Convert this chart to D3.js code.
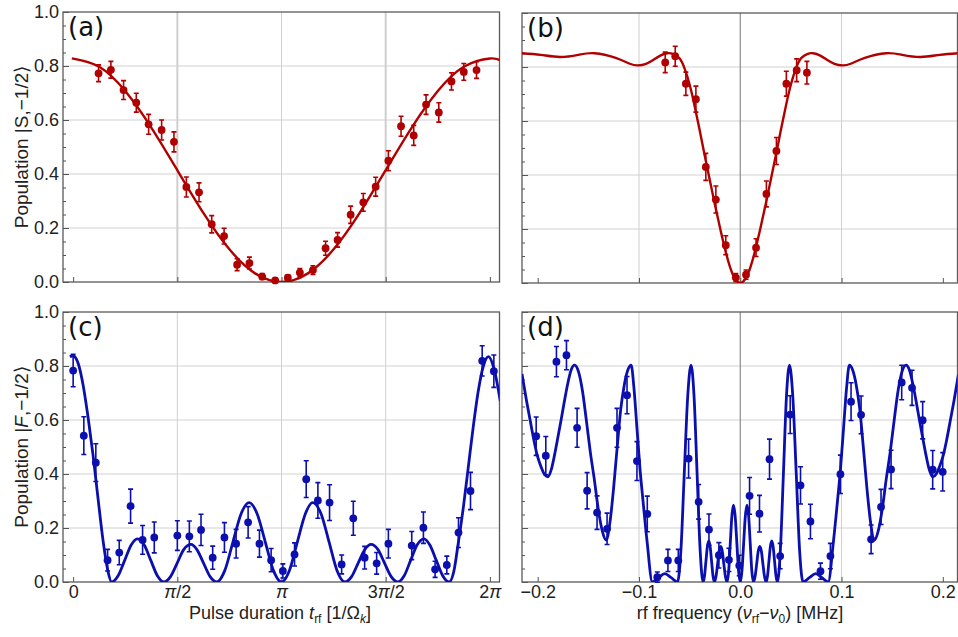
<!DOCTYPE html>
<html>
<head>
<meta charset="utf-8">
<script src="https://cdn.jsdelivr.net/npm/d3@7/dist/d3.min.js"></script>
<style>
html,body{margin:0;padding:0;background:#fff;}
svg{display:block;font-family:"Liberation Sans",Arial,sans-serif;}
</style>
</head>
<body>
<svg id="chart" width="958" height="637"></svg>
<script>
const PI = Math.PI;

// ---------- Panel (a): |S,-1/2> vs pulse duration ----------
const aX = [0.383,0.569,0.760,0.952,1.138,1.334,1.520,1.707,1.898,2.089,2.276,2.472,2.658,2.850,3.046,3.237,3.418,3.615,3.806,3.987,4.184,4.375,4.561,4.753,4.944,5.135,5.321,5.513,5.704,5.890,6.082];
const aY = [0.773,0.786,0.711,0.664,0.584,0.563,0.519,0.352,0.332,0.214,0.170,0.064,0.070,0.020,0.006,0.016,0.035,0.044,0.125,0.156,0.249,0.295,0.353,0.449,0.577,0.543,0.657,0.628,0.743,0.778,0.785];
const aErr = [0.031,0.031,0.035,0.035,0.037,0.037,0.037,0.037,0.035,0.032,0.029,0.022,0.022,0.011,0.006,0.010,0.015,0.016,0.026,0.027,0.032,0.033,0.035,0.037,0.037,0.037,0.036,0.036,0.032,0.031,0.031];
const aFitX = [-0.02,0.393,0.785,1.178,1.571,1.963,2.356,2.749,3.142,3.534,3.927,4.320,4.712,5.105,5.498,5.890,6.283,6.45];
const aFitY = [0.828,0.797,0.707,0.572,0.414,0.256,0.121,0.031,0.000,0.031,0.121,0.256,0.414,0.572,0.707,0.797,0.828,0.820];

// ---------- Panel (b): |S,-1/2> vs rf frequency ----------
const bX = [-0.0741,-0.0642,-0.0537,-0.0438,-0.0340,-0.0241,-0.0143,-0.0044,0.0057,0.0156,0.0258,0.0357,0.0455,0.0557,0.0658];
const bY = [0.817,0.840,0.738,0.681,0.430,0.309,0.140,0.020,0.031,0.131,0.330,0.489,0.738,0.788,0.779];
const bErr = [0.038,0.037,0.043,0.048,0.050,0.050,0.035,0.015,0.017,0.033,0.048,0.050,0.046,0.042,0.042];
const bFitX = [-0.2155,-0.197,-0.178,-0.160,-0.144,-0.123,-0.109,-0.101,-0.093,-0.086,-0.079,-0.072,-0.066,-0.060,-0.055,-0.050,-0.045,-0.040,-0.035,-0.030,-0.025,-0.020,-0.015,-0.010,-0.005,0,
  0.005,0.010,0.015,0.020,0.025,0.030,0.035,0.040,0.045,0.050,0.055,0.060,0.066,0.072,0.079,0.086,0.093,0.101,0.109,0.123,0.144,0.160,0.178,0.197,0.2155];
const bFitY = [0.851,0.845,0.837,0.845,0.851,0.834,0.812,0.806,0.812,0.826,0.842,0.851,0.848,0.832,0.795,0.735,0.655,0.565,0.47,0.38,0.29,0.205,0.125,0.058,0.015,0,
  0.015,0.058,0.125,0.205,0.29,0.38,0.47,0.565,0.655,0.735,0.795,0.832,0.848,0.851,0.842,0.826,0.812,0.806,0.812,0.834,0.851,0.845,0.837,0.845,0.851];

// ---------- Panel (c): |F,-1/2> vs pulse duration ----------
const cX = [0.000,0.161,0.342,0.519,0.695,0.866,1.047,1.223,1.571,1.752,1.928,2.104,2.281,2.457,2.638,2.809,2.985,3.162,3.338,3.514,3.690,3.866,4.048,4.224,4.395,4.576,4.753,5.105,5.281,5.457,5.634,5.810,5.991,6.167,6.343];
const cY = [0.783,0.542,0.442,0.081,0.109,0.281,0.156,0.165,0.172,0.169,0.193,0.090,0.165,0.142,0.221,0.142,0.081,0.041,0.102,0.381,0.302,0.294,0.065,0.236,0.090,0.069,0.142,0.135,0.201,0.047,0.063,0.183,0.337,0.819,0.781];
const cErr = [0.060,0.070,0.070,0.040,0.045,0.063,0.053,0.057,0.055,0.057,0.058,0.043,0.055,0.053,0.058,0.050,0.043,0.026,0.043,0.068,0.066,0.066,0.035,0.063,0.042,0.040,0.053,0.052,0.058,0.030,0.033,0.055,0.069,0.056,0.060];
const cFitX = [-0.05,0,0.075,0.15,0.225,0.30,0.375,0.45,0.525,0.579,
  0.678,0.777,0.875,0.967,1.072,1.171,1.270,1.369,
  1.468,1.568,1.667,1.777,1.866,1.966,2.065,2.165,
  2.287,2.409,2.531,2.653,2.775,2.897,3.019,3.141,
  3.261,3.380,3.500,3.610,3.739,3.859,3.978,4.098,
  4.198,4.297,4.397,4.491,4.596,4.695,4.795,4.894,
  4.991,5.088,5.185,5.291,5.378,5.475,5.572,5.669,
  5.74,5.81,5.885,5.96,6.035,6.11,6.185,6.263,6.345,6.44];
const cFitY = [0.834,0.838,0.81,0.73,0.61,0.47,0.31,0.155,0.04,0,
  0.023,0.08,0.137,0.16,0.137,0.08,0.023,0,
  0.02,0.07,0.12,0.139,0.12,0.07,0.02,0,
  0.043,0.148,0.252,0.294,0.252,0.148,0.043,0,
  0.043,0.148,0.252,0.294,0.252,0.148,0.043,0,
  0.02,0.07,0.12,0.139,0.12,0.07,0.02,0,
  0.023,0.08,0.137,0.16,0.137,0.08,0.023,0,
  0.04,0.15,0.28,0.43,0.58,0.71,0.80,0.835,0.79,0.67];

// ---------- Panel (d): |F,-1/2> vs rf frequency ----------
const dX = [-0.2015,-0.1920,-0.1815,-0.1716,-0.1611,-0.1512,-0.1414,-0.1315,-0.1217,-0.1118,-0.1020,-0.0918,-0.0819,-0.0714,-0.0612,-0.0510,-0.0411,-0.0309,-0.0211,-0.0112,-0.0010,0.0092,0.0190,0.0289,0.0394,0.0493,0.0595,0.0693,0.0792,0.0890,0.0989,0.1094,0.1193,0.1292,0.1390,0.1489,0.1594,0.1696,0.1801,0.1900,0.1999];
const dY = [0.540,0.468,0.816,0.840,0.571,0.338,0.257,0.197,0.571,0.692,0.448,0.252,0.018,0.080,0.080,0.457,0.297,0.194,0.099,0.082,0.061,0.319,0.253,0.455,0.096,0.620,0.358,0.224,0.040,0.096,0.399,0.668,0.619,0.158,0.278,0.417,0.739,0.719,0.599,0.416,0.408];
const dErr = [0.071,0.071,0.056,0.054,0.072,0.067,0.062,0.058,0.072,0.069,0.072,0.066,0.019,0.041,0.041,0.072,0.064,0.058,0.047,0.043,0.038,0.068,0.068,0.074,0.047,0.070,0.069,0.064,0.030,0.047,0.071,0.070,0.070,0.053,0.065,0.071,0.064,0.065,0.069,0.071,0.071];
const dFitX = [-0.2155,-0.2110,-0.2075,-0.2040,-0.2005,-0.1970,-0.1935,-0.1900,-0.1867,-0.1834,-0.1801,-0.1769,-0.1736,-0.1703,-0.1670,-0.1637,-0.1598,-0.1559,-0.1520,-0.1480,-0.1441,-0.1402,-0.1363,-0.1324,-0.1287,-0.1250,-0.1215,-0.1180,-0.1145,-0.1110,-0.1077,-0.1050,-0.1020,-0.0990,-0.0960,-0.0920,-0.0868,-0.0807,-0.0745,-0.0682,-0.0620,-0.0586,-0.0553,-0.0519,-0.0486,-0.0456,-0.0426,-0.0396,-0.0367,-0.0353,-0.0339,-0.0325,-0.0311,-0.0297,-0.0283,-0.0269,-0.0255,-0.0240,-0.0224,-0.0209,-0.0193,-0.0177,-0.0162,-0.0146,-0.0130,-0.0114,-0.0099,-0.0083,-0.0067,-0.0050,-0.0033,-0.0017,
  0,
  0.0017,0.0033,0.0050,0.0067,0.0083,0.0099,0.0114,0.0130,0.0146,0.0162,0.0177,0.0193,0.0209,0.0224,0.0240,0.0255,0.0269,0.0283,0.0297,0.0311,0.0325,0.0339,0.0353,0.0367,0.0396,0.0426,0.0456,0.0486,0.0519,0.0553,0.0586,0.0620,0.0682,0.0745,0.0807,0.0868,0.0920,0.0960,0.0990,0.1020,0.1050,0.1077,0.1110,0.1145,0.1180,0.1215,0.1250,0.1287,0.1324,0.1363,0.1402,0.1441,0.1480,0.1520,0.1559,0.1598,0.1637,0.1670,0.1703,0.1736,0.1769,0.1801,0.1834,0.1867,0.1900,0.1935,0.1970,0.2005,0.2040,0.2075,0.2110,0.2155];
const dFitY = [0.77,0.67,0.60,0.53,0.47,0.43,0.40,0.389,0.415,0.47,0.535,0.60,0.67,0.735,0.785,0.803,0.78,0.71,0.60,0.48,0.38,0.27,0.19,0.155,0.22,0.35,0.50,0.64,0.73,0.785,0.803,0.72,0.57,0.42,0.30,0.15,0,0.016,0.031,0.016,0,0.117,0.40,0.686,0.803,0.686,0.40,0.117,0,0.022,0.076,0.130,0.152,0.130,0.076,0.022,0,0.019,0.066,0.113,0.132,0.113,0.066,0.019,0,0.042,0.14,0.243,0.285,0.243,0.14,0.042,
  0,
  0.042,0.14,0.243,0.285,0.243,0.14,0.042,0,0.019,0.066,0.113,0.132,0.113,0.066,0.019,0,0.022,0.076,0.130,0.152,0.130,0.076,0.022,0,0.117,0.40,0.686,0.803,0.686,0.40,0.117,0,0.016,0.031,0.016,0,0.15,0.30,0.42,0.57,0.72,0.803,0.785,0.73,0.64,0.50,0.35,0.22,0.155,0.19,0.27,0.38,0.48,0.60,0.71,0.78,0.803,0.785,0.735,0.67,0.60,0.535,0.47,0.415,0.389,0.40,0.43,0.47,0.53,0.60,0.67,0.77];

// ---------- Ticks ----------
const yTickValues = [0, 0.2, 0.4, 0.6, 0.8, 1.0];
const yMinorValues = [0.05,0.1,0.15,0.25,0.3,0.35,0.45,0.5,0.55,0.65,0.7,0.75,0.85,0.9,0.95];
const radTicks = [0, PI/2, PI, 3*PI/2, 2*PI];
const radTickLabels = ["0", "π/2", "π", "3π/2", "2π"];
const freqTicks = [-0.2, -0.1, 0, 0.1, 0.2];
const freqTickLabels = ["\u22120.2", "\u22120.1", "0.0", "0.1", "0.2"];

const RED = "#b00000";
const BLUE = "#0b0fae";
const svg = d3.select("#chart");
const defs = svg.append("defs");

function drawPanel(o) {
  const b = o.box;
  const x = d3.scaleLinear().domain(o.xDomain).range([b.x0, b.x1]);
  const y = d3.scaleLinear().domain([0, 1]).range([b.y1, b.y0]);
  const g = svg.append("g");
  defs.append("clipPath").attr("id", "clip-" + o.id)
    .append("rect").attr("x", b.x0).attr("y", b.y0).attr("width", b.x1 - b.x0).attr("height", b.y1 - b.y0);

  // grid
  g.append("g").selectAll("line").data([0.2, 0.4, 0.6, 0.8]).join("line")
    .attr("x1", b.x0).attr("x2", b.x1).attr("y1", d => y(d)).attr("y2", d => y(d))
    .attr("stroke", "#d2d2d2").attr("stroke-width", 1.2);
  g.append("g").selectAll("line").data(o.xGrid).join("line")
    .attr("x1", d => x(d.v)).attr("x2", d => x(d.v)).attr("y1", b.y0).attr("y2", b.y1)
    .attr("stroke", d => d.c).attr("stroke-width", d => d.w);

  // axes (ticks inside)
  const yMinorAxis = g.append("g").attr("transform", `translate(${b.x0},0)`)
    .call(d3.axisLeft(y).tickValues(yMinorValues).tickSize(-3).tickFormat(""));
  const yMajorAxis = g.append("g").attr("transform", `translate(${b.x0},0)`)
    .call(d3.axisLeft(y).tickValues(yTickValues).tickSize(-6).tickPadding(4)
      .tickFormat(o.yLabels ? d3.format(".1f") : () => ""));
  const xAxis = g.append("g").attr("transform", `translate(0,${b.y1})`)
    .call(d3.axisBottom(x).tickValues(o.xTicks).tickSize(-5).tickPadding(3).tickFormat(() => ""));
  [yMinorAxis, yMajorAxis, xAxis].forEach(ax => {
    ax.select(".domain").remove();
    ax.selectAll(".tick line").attr("stroke", "#555").attr("stroke-width", 1);
    ax.attr("font-family", null).attr("font-size", null);
  });
  yMajorAxis.selectAll(".tick text").attr("font-size", 18).attr("fill", "#222");
  if (o.xLabels) {
    xAxis.selectAll(".tick text").each(function(d, i) {
      const t = d3.select(this);
      t.text(null).attr("font-size", 18).attr("fill", "#222");
      o.xLabels[i].split(/(π)/).forEach(part => {
        if (!part) return;
        t.append("tspan").text(part).attr("font-style", part === "π" ? "italic" : null);
      });
    });
  }

  // frame
  g.append("rect").attr("x", b.x0).attr("y", b.y0).attr("width", b.x1 - b.x0).attr("height", b.y1 - b.y0)
    .attr("fill", "none").attr("stroke", "#5a5a5a").attr("stroke-width", 1.3);

  // fit curve
  const line = d3.line().x(d => x(d[0])).y(d => y(d[1])).curve(o.curve);
  g.append("path").attr("clip-path", `url(#clip-${o.id})`)
    .attr("d", line(d3.zip(o.fx, o.fy)))
    .attr("fill", "none").attr("stroke", o.color).attr("stroke-width", o.lw).attr("stroke-linejoin", "round");

  // data with error bars
  const pts = d3.zip(o.px, o.py, o.pe);
  const eb = g.append("g").attr("stroke", o.color).attr("stroke-width", 1.6).attr("fill", "none");
  eb.selectAll("path").data(pts).join("path")
    .attr("d", d => {
      const cx = x(d[0]), y1 = y(d[1] - d[2]), y2 = y(d[1] + d[2]);
      return `M${cx},${y1}V${y2}M${cx - 2.5},${y1}H${cx + 2.5}M${cx - 2.5},${y2}H${cx + 2.5}`;
    });
  g.append("g").selectAll("circle").data(pts).join("circle")
    .attr("cx", d => x(d[0])).attr("cy", d => y(d[1])).attr("r", 3.9).attr("fill", o.color);

  // panel label
  g.append("text").attr("x", b.x0 + 5).attr("y", b.y0 + 24)
    .attr("font-family", "DejaVu Sans, sans-serif").attr("font-size", 26).attr("fill", "#111")
    .text(o.label);
}

const radDomain = [-0.153, 2 * PI + 0.145];
const freqDomain = [-0.2155, 0.2145];
const radGrid = (w) => [{v: PI/2, c: "#cfcfcf", w: w}, {v: PI, c: "#cfcfcf", w: 1}, {v: 3*PI/2, c: "#cfcfcf", w: w}];
const freqGrid = [{v: -0.1, c: "#cfcfcf", w: 1}, {v: 0.1, c: "#cfcfcf", w: 1}, {v: 0, c: "#8a8a8a", w: 1.2}];

drawPanel({id: "a", box: {x0: 63, x1: 499.5, y0: 12, y1: 282}, xDomain: radDomain, xTicks: radTicks, xGrid: radGrid(2),
  yLabels: true, xLabels: null, px: aX, py: aY, pe: aErr, fx: aFitX, fy: aFitY, curve: d3.curveNatural, color: RED, lw: 2.4, label: "(a)"});
drawPanel({id: "b", box: {x0: 522, x1: 957.5, y0: 13, y1: 283}, xDomain: freqDomain, xTicks: freqTicks, xGrid: freqGrid,
  yLabels: false, xLabels: null, px: bX, py: bY, pe: bErr, fx: bFitX, fy: bFitY, curve: d3.curveNatural, color: RED, lw: 2.4, label: "(b)"});
drawPanel({id: "c", box: {x0: 63, x1: 499.5, y0: 312, y1: 582}, xDomain: radDomain, xTicks: radTicks, xGrid: radGrid(1),
  yLabels: true, xLabels: radTickLabels, px: cX, py: cY, pe: cErr, fx: cFitX, fy: cFitY, curve: d3.curveMonotoneX, color: BLUE, lw: 2.8, label: "(c)"});
drawPanel({id: "d", box: {x0: 522, x1: 957.5, y0: 312, y1: 582}, xDomain: freqDomain, xTicks: freqTicks, xGrid: freqGrid,
  yLabels: false, xLabels: freqTickLabels, px: dX, py: dY, pe: dErr, fx: dFitX, fy: dFitY, curve: d3.curveMonotoneX, color: BLUE, lw: 2.8, label: "(d)"});

// axis titles
function yTitle(cy, letter, italic) {
  const t = svg.append("text").attr("transform", `translate(28,${cy}) rotate(-90)`)
    .attr("text-anchor", "middle").attr("font-size", 19).attr("fill", "#222");
  t.append("tspan").text("Population |");
  t.append("tspan").text(letter).attr("font-style", italic ? "italic" : null);
  t.append("tspan").text(",\u22121/2\u27E9");
}
yTitle(147, "S", false);
yTitle(447, "F", true);

const xt1 = svg.append("text").attr("x", 280).attr("y", 619).attr("text-anchor", "middle").attr("font-size", 18).attr("fill", "#222");
xt1.append("tspan").text("Pulse duration ");
xt1.append("tspan").text("t").attr("font-style", "italic");
xt1.append("tspan").text("rf").attr("font-size", 12).attr("dy", 4);
xt1.append("tspan").text(" [1/Ω").attr("dy", -4);
xt1.append("tspan").text("k").attr("font-size", 12).attr("font-style", "italic").attr("dy", 4);
xt1.append("tspan").text("]").attr("dy", -4);

const xt2 = svg.append("text").attr("x", 740).attr("y", 619).attr("text-anchor", "middle").attr("font-size", 18).attr("fill", "#222");
xt2.append("tspan").text("rf frequency (");
xt2.append("tspan").text("ν").attr("font-style", "italic");
xt2.append("tspan").text("rf").attr("font-size", 12).attr("dy", 4);
xt2.append("tspan").text("\u2212").attr("dy", -4);
xt2.append("tspan").text("ν").attr("font-style", "italic");
xt2.append("tspan").text("0").attr("font-size", 12).attr("dy", 4);
xt2.append("tspan").text(") [MHz]").attr("dy", -4);
</script>
</body>
</html>
